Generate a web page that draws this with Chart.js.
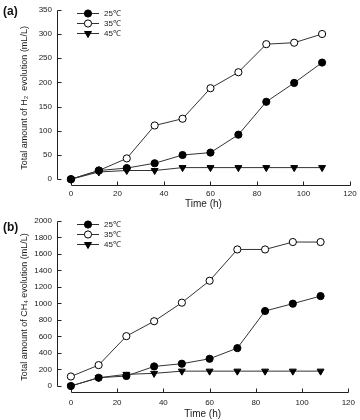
<!DOCTYPE html>
<html>
<head>
<meta charset="utf-8">
<script src="https://cdn.jsdelivr.net/npm/chart.js@4.4.1/dist/chart.umd.min.js"></script>
<style>
  body { margin: 0; background: #fff; }
  .panel { position: relative; width: 360px; height: 210px; }
  .tag { position: absolute; left: 3px; font: bold 12px "Liberation Sans", Arial, sans-serif; color: #111; }
</style>
</head>
<body>
<div class="panel">
  <canvas id="h2Chart" width="360" height="210"></canvas>
  <span class="tag" style="top:4px">(a)</span>
</div>
<div class="panel">
  <canvas id="ch4Chart" width="360" height="210"></canvas>
  <span class="tag" style="top:10px">(b)</span>
</div>
<script>
const hours = [0, 12, 24, 36, 48, 60, 72, 84, 96, 108];
const seriesLabels = ["25\u2103", "35\u2103", "45\u2103"];

const h2At25 = [0, 18, 23, 33, 50, 55, 92, 160, 199, 241];
const h2At35 = [0, 18, 43, 111, 125, 188, 221, 279, 282, 300];
const h2At45 = [0, 15, 18, 18, 24, 24, 24, 24, 24, 24];

const ch4At25 = [0, 100, 121, 237, 270, 330, 459, 909, 998, 1090];
const ch4At35 = [115, 253, 604, 785, 1010, 1276, 1655, 1655, 1745, 1745];
const ch4At45 = [0, 100, 141, 153, 180, 180, 180, 180, 180, 180];

const timeTicks = [0, 20, 40, 60, 80, 100, 120];
const h2Ticks = [0, 50, 100, 150, 200, 250, 300, 350];
const ch4Ticks = [0, 200, 400, 600, 800, 1000, 1200, 1400, 1600, 1800, 2000];

const FONT = "'Liberation Sans', Arial, sans-serif";
const INK = "#1a1a1a";

const markerStyles = [
  { pointStyle: "circle", radius: 3.6, rotation: 0, fill: "#000" },
  { pointStyle: "circle", radius: 3.6, rotation: 0, fill: "#fff" },
  { pointStyle: "triangle", radius: 4, rotation: 180, fill: "#000" },
];

// axis lines sit off the plot corner, ticks pointing inward
const detachedAxes = {
  id: "detachedAxes",
  beforeDatasetsDraw(chart) {
    const { ctx, chartArea, scales } = chart;
    const xs = scales.x;
    const ys = scales.y;
    ctx.save();
    ctx.strokeStyle = "#222";
    ctx.lineWidth = 1;
    ctx.beginPath();

    const ax = Math.round(chartArea.left) + 0.5;
    const yv = ys.ticks.map((t) => t.value);
    ctx.moveTo(ax, Math.round(ys.getPixelForValue(yv[0])) + 0.5);
    ctx.lineTo(ax, Math.round(ys.getPixelForValue(yv[yv.length - 1])) + 0.5);
    yv.forEach((v) => {
      const py = Math.round(ys.getPixelForValue(v)) + 0.5;
      ctx.moveTo(ax, py);
      ctx.lineTo(ax + 4, py);
    });

    const ay = Math.round(chartArea.bottom) - 0.5;
    const xv = xs.ticks.map((t) => t.value);
    ctx.moveTo(Math.round(xs.getPixelForValue(xv[0])) + 0.5, ay);
    ctx.lineTo(Math.round(xs.getPixelForValue(xv[xv.length - 1])) + 0.5, ay);
    xv.forEach((v) => {
      const px = Math.round(xs.getPixelForValue(v)) + 0.5;
      ctx.moveTo(px, ay);
      ctx.lineTo(px, ay - 4);
    });
    ctx.stroke();
    ctx.restore();
  },
};

// legend drawn as line + marker + label, inside the plot
const lineLegend = {
  id: "lineLegend",
  afterDraw(chart, args, opts) {
    const { ctx } = chart;
    ctx.save();
    ctx.font = "8px " + FONT;
    ctx.textBaseline = "middle";
    chart.data.datasets.forEach((ds, i) => {
      const y = opts.top + i * 10;
      ctx.strokeStyle = "#333";
      ctx.lineWidth = 1;
      ctx.beginPath();
      ctx.moveTo(opts.left, y + 0.5);
      ctx.lineTo(opts.left + 22, y + 0.5);
      ctx.stroke();
      ctx.fillStyle = ds.pointBackgroundColor;
      ctx.strokeStyle = "#000";
      Chart.helpers.drawPoint(
        ctx,
        { pointStyle: ds.pointStyle, radius: ds.pointRadius, rotation: ds.pointRotation, borderWidth: 1 },
        opts.left + 11,
        y + 0.5
      );
      ctx.fillStyle = INK;
      ctx.fillText(ds.label, opts.left + 27, y + 0.5);
    });
    ctx.restore();
  },
};

function makeChart(id, series, yTicks, yMin, yTitle, box) {
  const ctx = document.getElementById(id).getContext("2d");
  return new Chart(ctx, {
    type: "line",
    data: {
      labels: hours,
      datasets: series.map((values, i) => ({
        label: seriesLabels[i],
        data: values.map((v, k) => ({ x: hours[k], y: v })),
        borderColor: "#333",
        borderWidth: 1,
        pointStyle: markerStyles[i].pointStyle,
        pointRadius: markerStyles[i].radius,
        pointRotation: markerStyles[i].rotation,
        pointBackgroundColor: markerStyles[i].fill,
        pointBorderColor: "#000",
        pointBorderWidth: 1,
        tension: 0,
        fill: false,
      })),
    },
    options: {
      responsive: false,
      animation: false,
      layout: { padding: { top: box.top, right: 10, left: 0, bottom: 0 } },
      plugins: {
        legend: { display: false },
        tooltip: { enabled: false },
        lineLegend: { left: 77, top: box.legendTop },
      },
      scales: {
        x: {
          type: "linear",
          min: -6,
          max: 120,
          afterBuildTicks: (s) => {
            s.ticks = timeTicks.map((v) => ({ value: v }));
          },
          afterFit: (s) => {
            s.height = box.xHeight;
          },
          grid: { display: false, drawTicks: false },
          border: { display: false },
          ticks: {
            color: INK,
            font: { family: FONT, size: 8 },
            padding: box.xPad,
            autoSkip: false,
            maxRotation: 0,
            callback: (v) => String(v),
          },
          title: { display: true, text: "Time (h)", color: INK, font: { family: FONT, size: 10 }, padding: 0 },
        },
        y: {
          type: "linear",
          min: yMin,
          max: yTicks[yTicks.length - 1],
          afterBuildTicks: (s) => {
            s.ticks = yTicks.map((v) => ({ value: v }));
          },
          afterFit: (s) => {
            s.width = 57;
          },
          grid: { display: false, drawTicks: false },
          border: { display: false },
          ticks: {
            color: INK,
            font: { family: FONT, size: 8 },
            padding: 5,
            autoSkip: false,
            callback: (v) => String(v),
          },
          title: { display: true, text: yTitle, color: INK, font: { family: FONT, size: 9 }, padding: { top: 19, bottom: 0 } },
        },
      },
    },
    plugins: [detachedAxes, lineLegend],
  });
}

makeChart("h2Chart", [h2At25, h2At35, h2At45], h2Ticks, -14,
  "Total amount of H\u2082  evolution (mL/L)",
  { top: 5, xHeight: 24, xPad: 3, legendTop: 13 });

makeChart("ch4Chart", [ch4At25, ch4At35, ch4At45], ch4Ticks, -85,
  "Total amount of CH\u2084 evolution (mL/L)",
  { top: 11, xHeight: 27, xPad: 5, legendTop: 14 });
</script>
</body>
</html>
